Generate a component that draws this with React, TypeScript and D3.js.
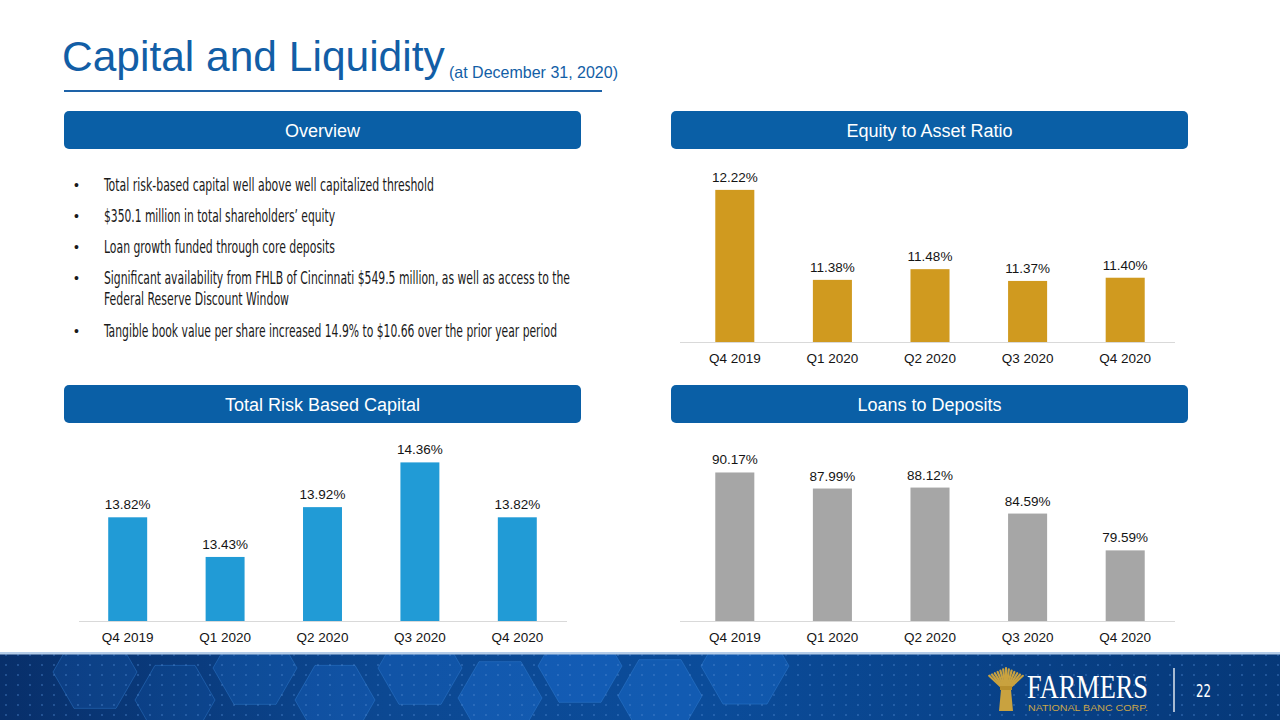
import React from "react";
import * as d3 from "d3";

const quarters = ["Q4 2019", "Q1 2020", "Q2 2020", "Q3 2020", "Q4 2020"];
const equityToAsset = [12.22, 11.38, 11.48, 11.37, 11.4];
const totalRiskCapital = [13.82, 13.43, 13.92, 14.36, 13.82];
const loansToDeposits = [90.17, 87.99, 88.12, 84.59, 79.59];

const overviewBullets = [
  ["Total risk-based capital well above well capitalized threshold"],
  ["$350.1 million in total shareholders\u2019 equity"],
  ["Loan growth funded through core deposits"],
  [
    "Significant availability from FHLB of Cincinnati $549.5 million, as well as access to the",
    "Federal Reserve Discount Window",
  ],
  ["Tangible book value per share increased 14.9% to $10.66 over the prior year period"],
];
const bulletWidths = [[330], [231], [231], [466, 185], [453]];

const FONT = "'Liberation Sans', Arial, Helvetica, sans-serif";
const NARROW = "'Liberation Sans Narrow', 'DejaVu Sans Condensed', 'Liberation Sans', sans-serif";

type ChartProps = {
  values: number[];
  domain: [number, number];
  x0: number;
  x1: number;
  axisX0: number;
  axisX1: number;
  baseY: number;
  topY: number;
  color: string;
};

function BarChart({ values, domain, x0, x1, axisX0, axisX1, baseY, topY, color }: ChartProps) {
  const x = d3.scaleBand<string>().domain(quarters).range([x0, x1]).padding(0);
  const y = d3.scaleLinear().domain(domain).range([baseY, topY]);
  const step = x.step();
  const bw = step * 0.4;
  return (
    <g>
      {values.map((v, i) => {
        const cx = (x(quarters[i]) as number) + step / 2;
        const top = y(v);
        return (
          <g key={i}>
            <rect x={cx - bw / 2} y={top} width={bw} height={baseY - top} fill={color} />
            <text x={cx} y={top - 8} textAnchor="middle" fontFamily={FONT} fontSize={13.5} fill="#141414">
              {v.toFixed(2)}%
            </text>
            <text x={cx} y={baseY + 21} textAnchor="middle" fontFamily={FONT} fontSize={13.5} fill="#141414">
              {quarters[i]}
            </text>
          </g>
        );
      })}
      <line x1={axisX0} x2={axisX1} y1={baseY + 0.5} y2={baseY + 0.5} stroke="#d9d9d9" strokeWidth={1.2} />
    </g>
  );
}

function Header({ x, y, w, label }: { x: number; y: number; w: number; label: string }) {
  return (
    <g>
      <rect x={x} y={y} width={w} height={38} rx={5} ry={5} fill="#0a5fa6" />
      <text x={x + w / 2} y={y + 25.5} textAnchor="middle" fontFamily={FONT} fontSize={18} fill="#ffffff">
        {label}
      </text>
    </g>
  );
}

function hexPoints(cx: number, cy: number, r: number) {
  const pts: string[] = [];
  for (let k = 0; k < 6; k++) {
    const a = (Math.PI / 3) * k;
    pts.push(`${cx + r * Math.cos(a)},${cy + r * Math.sin(a)}`);
  }
  return pts.join(" ");
}

const hexFills = [
  { cx: 95, cy: 672, r: 42, o: 0.2 },
  { cx: 175, cy: 700, r: 40, o: 0.15 },
  { cx: 255, cy: 668, r: 42, o: 0.25 },
  { cx: 335, cy: 700, r: 40, o: 0.3 },
  { cx: 420, cy: 668, r: 42, o: 0.3 },
  { cx: 500, cy: 698, r: 42, o: 0.4 },
  { cx: 580, cy: 666, r: 42, o: 0.45 },
  { cx: 660, cy: 696, r: 42, o: 0.4 },
  { cx: 745, cy: 666, r: 44, o: 0.35 },
];

function Banner() {
  return (
    <g>
      <defs>
        <linearGradient id="bannerGrad" x1="0" x2="1" y1="0" y2="0">
          <stop offset="0" stopColor="#082f6a" />
          <stop offset="0.3" stopColor="#0c4892" />
          <stop offset="0.55" stopColor="#0b4c9a" />
          <stop offset="1" stopColor="#063878" />
        </linearGradient>
        <pattern id="dots" x="0" y="0" width="12" height="10" patternUnits="userSpaceOnUse">
          <circle cx="6" cy="5" r="0.9" fill="#4c86d0" opacity="0.55" />
        </pattern>
        <clipPath id="bannerClip">
          <rect x={0} y={654} width={1280} height={66} />
        </clipPath>
      </defs>
      <rect x={0} y={654} width={1280} height={66} fill="url(#bannerGrad)" />
      <g clipPath="url(#bannerClip)">
        {hexFills.map((h, i) => (
          <polygon
            key={i}
            points={hexPoints(h.cx, h.cy, h.r)}
            fill="#1d72d6"
            fillOpacity={h.o}
            stroke="#3f8be0"
            strokeOpacity={0.45}
            strokeWidth={0.8}
          />
        ))}
        <rect x={0} y={654} width={1280} height={66} fill="url(#dots)" />
      </g>
      <rect x={0} y={652} width={1280} height={2.5} fill="#b4cce8" />
    </g>
  );
}

function Logo() {
  const stalks = d3.range(-6, 7).map((k) => k);
  return (
    <g>
      {stalks.map((k) => (
        <line
          key={k}
          x1={1006 + k * 0.6}
          y1={688}
          x2={1006 + k * 2.8}
          y2={668 + Math.abs(k) * 1.3}
          stroke="#c9a23f"
          strokeWidth={2.2}
          strokeLinecap="round"
        />
      ))}
      <rect x={1000} y={686} width={12} height={4} fill="#b88f2c" />
      <path d="M1001,690 L999,711 L1013,711 L1011,690 Z" fill="#c9a23f" />
      <text
        x={1027}
        y={698}
        fontFamily="'Liberation Serif', 'DejaVu Serif', serif"
        fontSize={33}
        fill="#ffffff"
        textLength={121}
        lengthAdjust="spacingAndGlyphs"
      >
        FARMERS
      </text>
      <text
        x={1028}
        y={710.5}
        fontFamily={FONT}
        fontSize={9}
        fill="#c9a54a"
        textLength={120}
        lengthAdjust="spacingAndGlyphs"
      >
        NATIONAL BANC CORP.
      </text>
      <line x1={1174} x2={1174} y1={668} y2={712} stroke="#ffffff" strokeWidth={1.3} />
      <text x={1196} y={697} fontFamily={NARROW} fontSize={17} fill="#ffffff" textLength={15} lengthAdjust="spacingAndGlyphs">
        22
      </text>
    </g>
  );
}

export default function App() {
  let lineIdx = 0;
  const baselines = [190, 221, 252, 283, 304, 336];
  return (
    <svg width={1280} height={720} viewBox="0 0 1280 720" style={{ position: "fixed", left: 0, top: 0, background: "#ffffff" }}>
      <rect x={0} y={0} width={1280} height={720} fill="#ffffff" />
      <text x={62} y={71} fontFamily={FONT} fontSize={42.5} fill="#125ea6">
        Capital and Liquidity
      </text>
      <text x={449} y={78} fontFamily={FONT} fontSize={16.5} fill="#125ea6" textLength={169} lengthAdjust="spacingAndGlyphs">
        (at December 31, 2020)
      </text>
      <line x1={64} x2={602} y1={91} y2={91} stroke="#1e63a8" strokeWidth={2} />

      <Header x={64} y={111} w={517} label="Overview" />
      <Header x={671} y={111} w={517} label="Equity to Asset Ratio" />
      <Header x={64} y={385} w={517} label="Total Risk Based Capital" />
      <Header x={671} y={385} w={517} label="Loans to Deposits" />

      {overviewBullets.map((lines, bi) => (
        <g key={bi}>
          {lines.map((ln, li) => {
            const by = baselines[lineIdx++];
            return (
              <g key={li}>
                {li === 0 && (
                  <text x={74} y={by} fontFamily={FONT} fontSize={14} fill="#1a1a1a">
                    {"\u2022"}
                  </text>
                )}
                <text
                  x={104}
                  y={by + 1}
                  fontFamily={NARROW}
                  fontSize={17}
                  fill="#1a1a1a"
                  textLength={bulletWidths[bi][li]}
                  lengthAdjust="spacingAndGlyphs"
                >
                  {ln}
                </text>
              </g>
            );
          })}
        </g>
      ))}

      <BarChart values={equityToAsset} domain={[10.8, 12.4]} x0={686} x1={1174} axisX0={680} axisX1={1175} baseY={342} topY={170.6} color="#d09a1f" />
      <BarChart values={totalRiskCapital} domain={[12.8, 14.6]} x0={79} x1={566} axisX0={79} axisX1={567} baseY={621} topY={438} color="#219bd6" />
      <BarChart values={loansToDeposits} domain={[70, 92]} x0={686} x1={1174} axisX0={680} axisX1={1175} baseY={621} topY={459} color="#a6a6a6" />

      <Banner />
      <Logo />
    </svg>
  );
}
